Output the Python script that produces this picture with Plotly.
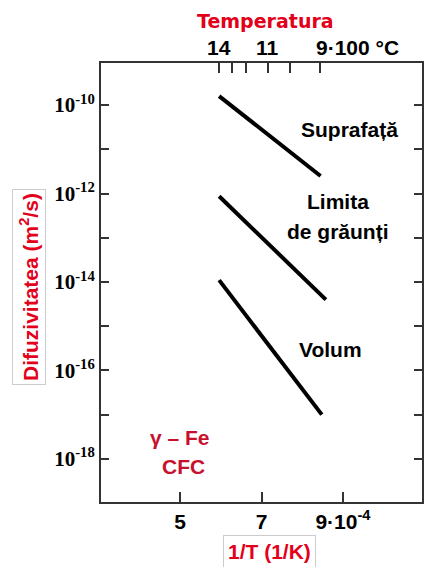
import plotly.graph_objects as go

# ---- data (1/T in units of 1e-4 1/K, D in m^2/s) ----
suprafata_x = [5.96, 8.45]
suprafata_D = [1.6e-10, 2.5e-12]
limita_x = [5.96, 8.58]
limita_D = [8.7e-13, 4.0e-15]
volum_x = [5.96, 8.48]
volum_D = [1.1e-14, 1.0e-17]

bottom_tickvals = [5, 7, 9]
bottom_ticktext = ["<b>5</b>", "<b>7</b>", "<b>9·10<sup>-4</sup></b>"]

top_tickvals = [5.957, 6.28, 6.61, 7.15, 7.70, 8.44]
top_labels = [("14", 5.957), ("11", 7.15), ("9·100 °C", 8.44)]

y_exponents = [-10, -11, -12, -13, -14, -15, -16, -17, -18]
y_tickvals = [10.0 ** e for e in y_exponents]
y_ticktext = [f"<b>10<sup>{e}</sup></b>" if e % 2 == 0 else "" for e in y_exponents]

X_RANGE = [3.06, 10.94]
Y_RANGE = [-18.975, -9.048]

RED = "#e3001b"
DARKRED = "#c8102e"
SANS = "Liberation Sans"
WIDE = "DejaVu Sans"
SERIF = "Liberation Serif"
FS = 21

W, H = 424, 567
ML, MR, MT, MB = 101, 2, 63, 65
PW, PH = W - ML - MR, H - MT - MB


def paper_x(px):
    return (px - ML) / PW


def paper_y(py):
    return 1 - (py - MT) / PH


fig = go.Figure()
for xs, ys in [(suprafata_x, suprafata_D), (limita_x, limita_D), (volum_x, volum_D)]:
    fig.add_trace(go.Scatter(x=xs, y=ys, mode="lines",
                             line=dict(color="black", width=4),
                             showlegend=False, hoverinfo="skip"))
# invisible trace to activate top axis
fig.add_trace(go.Scatter(x=[X_RANGE[0]], y=[1e-12], xaxis="x2", mode="markers",
                         marker=dict(opacity=0), showlegend=False, hoverinfo="skip"))

fig.update_layout(
    width=W, height=H,
    margin=dict(l=ML, r=MR, t=MT, b=MB, autoexpand=False),
    plot_bgcolor="white", paper_bgcolor="white",
    xaxis=dict(range=X_RANGE, tickvals=bottom_tickvals, ticktext=bottom_ticktext,
               ticks="inside", ticklen=10, tickwidth=1.5, tickcolor="#333",
               showline=True, linecolor="#333", linewidth=2, mirror=True,
               showgrid=False, zeroline=False, automargin=False,
               tickfont=dict(family=SANS, size=FS, color="black")),
    xaxis2=dict(range=X_RANGE, overlaying="x", side="top", tickvals=top_tickvals,
                showticklabels=False, ticks="inside", ticklen=10, tickwidth=1.5,
                tickcolor="#333", showgrid=False, zeroline=False, showline=False,
                automargin=False),
    yaxis=dict(type="log", range=Y_RANGE, tickvals=y_tickvals, ticktext=y_ticktext,
               ticks="inside", ticklen=8, tickwidth=1.5, tickcolor="#333",
               showline=True, linecolor="#333", linewidth=2, mirror="ticks",
               showgrid=False, zeroline=False, automargin=False,
               tickfont=dict(family=SERIF, size=21, color="black")),
)

ann = []
# top temperature labels
for txt, xv in top_labels:
    is_last = txt.startswith("9")
    ann.append(dict(x=xv, y=1, xref="x", yref="paper", yanchor="bottom", yshift=2,
                    xanchor="left" if is_last else "center", xshift=-6 if is_last else 0,
                    text=f"<b>{txt}</b>", showarrow=False,
                    font=dict(family=SANS, size=FS, color="black")))


def add_text(t, px, py, color, size=FS, family=SANS, **kw):
    ann.append(dict(x=paper_x(px), y=paper_y(py), xref="paper", yref="paper",
                    xanchor="center", yanchor="middle", text=f"<b>{t}</b>",
                    showarrow=False, font=dict(family=family, size=size, color=color), **kw))


add_text("Temperatura", 265, 21, RED, size=19, family=WIDE)

# series labels
for t, px, py in [("Suprafață", 349, 129), ("Limita", 338, 201),
                  ("de grăunți", 337.5, 232), ("Volum", 330, 349)]:
    add_text(t, px, py, "black")

for t, px, py in [("γ – Fe", 180, 437), ("CFC", 183, 466)]:
    add_text(t, px, py, DARKRED)

# axis titles in boxes
add_text("Difuzivitatea (m<sup>2</sup>/s)", 29, 287, RED, textangle=-90,
         bordercolor="#cccccc", borderwidth=1, borderpad=3, bgcolor="white")
add_text("1/T (1/K)", 269, 551, RED,
         bordercolor="#cccccc", borderwidth=1, borderpad=4, bgcolor="white")

fig.update_layout(annotations=ann)
fig.write_html("out.html", config={"displayModeBar": False},
               post_script="document.body.style.margin='0px';")
